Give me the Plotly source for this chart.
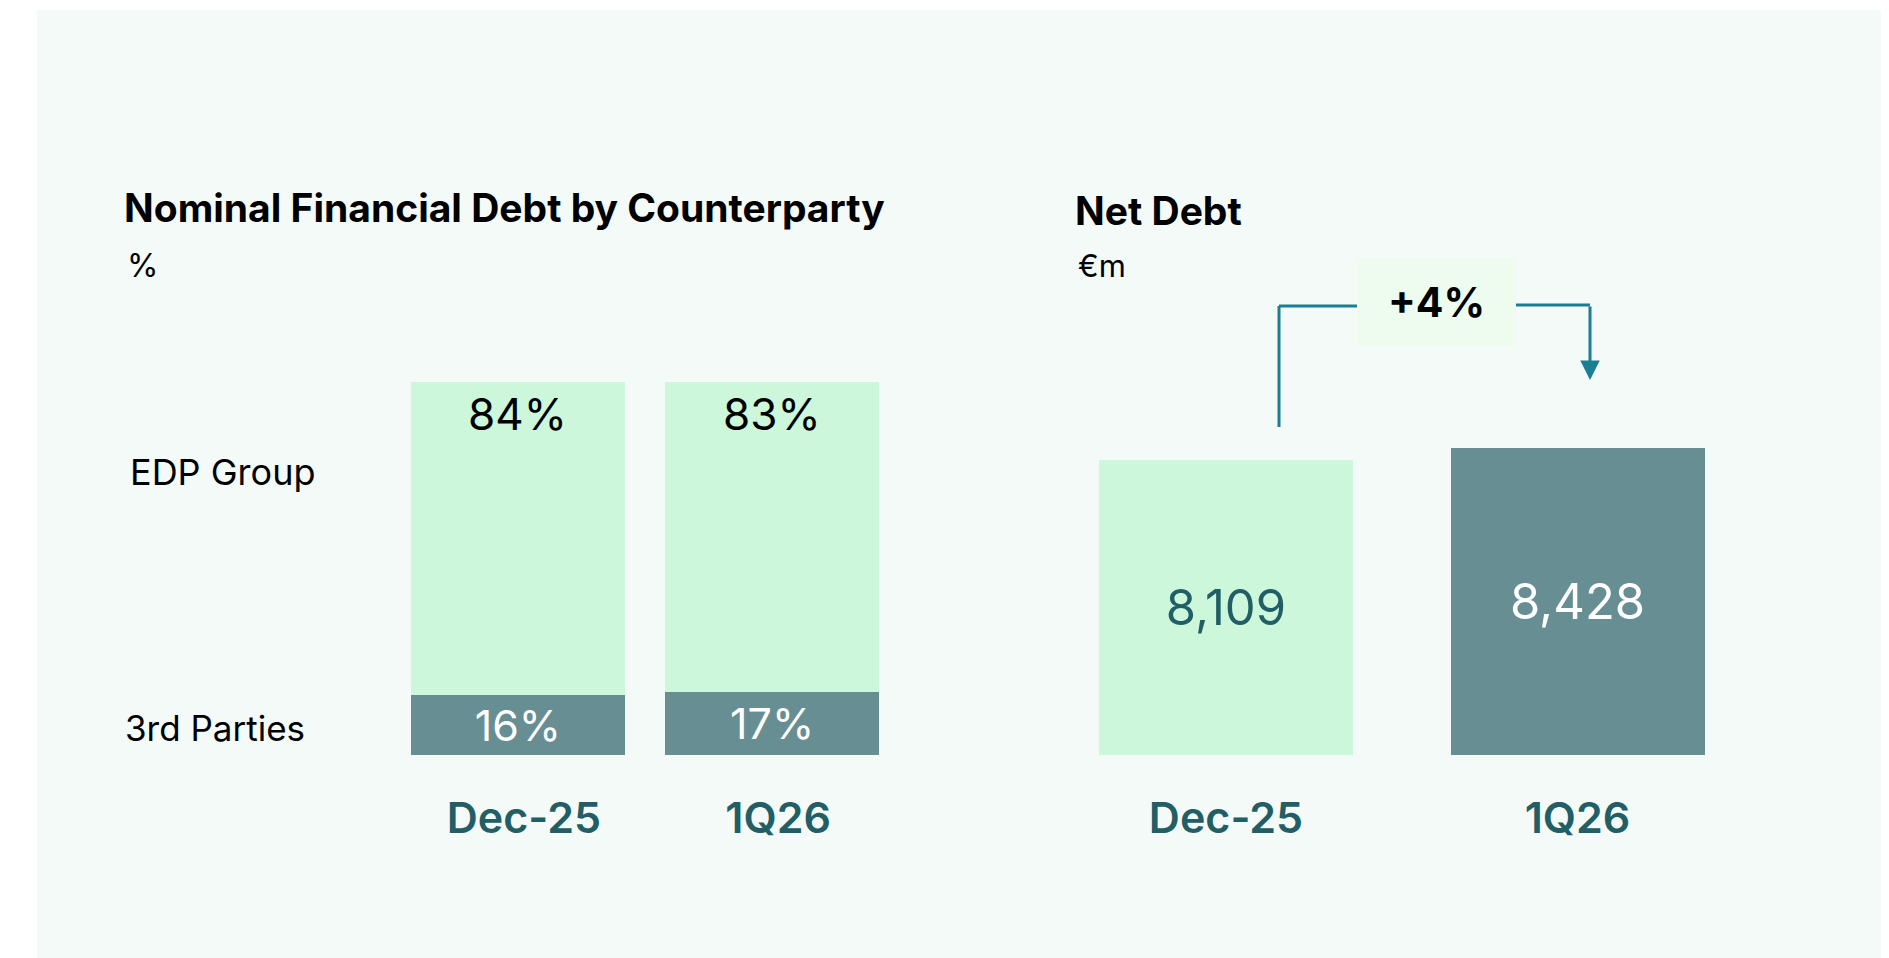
import plotly.graph_objects as go

# ---------------- data ----------------
periods = ["Dec-25", "1Q26"]
edp_group_pct = [84, 83]
third_parties_pct = [16, 17]
net_debt = [8109, 8428]
segment_labels = ["EDP Group", "3rd Parties"]

W, H = 1889, 958
OFF = 8  # page body margin of the html page
FONT = "Inter"
LIGHT = "#CCF7DA"
DARK = "#668E93"
TEAL_TXT = "#215E66"
ARROW = "#1B7F93"
PANEL = "#F4FAF7"


def px(x):
    return (x - OFF) / W


def py(y):
    return 1 - (y - OFF) / H


fig = go.Figure()

# ---- left chart: stacked % bars ----
fig.add_trace(go.Bar(
    x=periods, y=third_parties_pct, name=segment_labels[1],
    marker=dict(color=DARK, line=dict(width=0)), width=0.84,
    text=[f"{v}%" for v in third_parties_pct], textposition="inside",
    insidetextanchor="middle", constraintext="none",
    textfont=dict(family=FONT, size=43, color="white"),
    xaxis="x", yaxis="y", hoverinfo="skip",
))
fig.add_trace(go.Bar(
    x=periods, y=edp_group_pct, name=segment_labels[0],
    marker=dict(color=LIGHT, line=dict(width=0)), width=0.84,
    xaxis="x", yaxis="y", hoverinfo="skip",
))

# ---- right chart: net debt bars ----
fig.add_trace(go.Bar(
    x=periods, y=net_debt, name="Net Debt",
    marker=dict(color=[LIGHT, DARK], line=dict(width=0)), width=0.7226,
    text=[f"{v:,}" for v in net_debt], textposition="inside",
    insidetextanchor="middle", constraintext="none",
    textfont=dict(family=FONT, size=49, color=[TEAL_TXT, "white"]),
    xaxis="x2", yaxis="y2", hoverinfo="skip",
))

ybot, ytop = py(755), py(382)
tickfont = dict(family=FONT, size=43, color=TEAL_TXT, weight=600)

fig.update_layout(
    width=W, height=H,
    margin=dict(l=0, r=0, t=0, b=0),
    paper_bgcolor="white", plot_bgcolor="rgba(0,0,0,0)",
    barmode="stack", showlegend=False,
    xaxis=dict(domain=[px(390.75), px(899.25)], type="category",
               range=[-0.5, 1.5], showgrid=False, zeroline=False,
               showline=False, ticks="", tickfont=tickfont,
               ticklabelstandoff=34, ticklabelshift=6, fixedrange=True),
    yaxis=dict(domain=[ybot, ytop], range=[0, 100], visible=False,
               fixedrange=True),
    xaxis2=dict(domain=[px(1050.25), px(1753.25)], type="category",
                range=[-0.5, 1.5], showgrid=False, zeroline=False,
                showline=False, ticks="", tickfont=tickfont,
                ticklabelstandoff=34, anchor="y2", fixedrange=True),
    yaxis2=dict(domain=[ybot, ytop], range=[0, 10253], visible=False,
                anchor="x2", fixedrange=True),
)

shapes = []
# panel background
shapes.append(dict(type="rect", xref="paper", yref="paper", layer="below",
                   x0=px(37), x1=px(1883), y0=py(966), y1=py(10),
                   fillcolor=PANEL, line=dict(width=0)))
# "+4%" box
shapes.append(dict(type="rect", xref="paper", yref="paper", layer="above",
                   x0=px(1357), x1=px(1516), y0=py(346), y1=py(258),
                   fillcolor="#EEFCF0", line=dict(width=0)))
# bracket lines
for (x0, y0, x1, y1) in [(1279, 427, 1279, 306), (1279, 306, 1357, 306),
                         (1516, 305, 1590, 305)]:
    shapes.append(dict(type="line", xref="paper", yref="paper",
                       x0=px(x0), y0=py(y0), x1=px(x1), y1=py(y1),
                       line=dict(color=ARROW, width=3)))
fig.update_layout(shapes=shapes)

growth = round((net_debt[1] / net_debt[0] - 1) * 100)

annotations = [
    dict(text="<b>Nominal Financial Debt by Counterparty</b>", x=px(122), y=py(207),
         xanchor="left", yanchor="middle", font=dict(family=FONT, size=39, color="#000")),
    dict(text="%", x=px(125), y=py(265), xanchor="left", yanchor="middle",
         font=dict(family=FONT, size=32, color="#000")),
    dict(text="<b>Net Debt</b>", x=px(1073), y=py(211), xanchor="left", yanchor="middle",
         font=dict(family=FONT, size=39, color="#000")),
    dict(text="€m", x=px(1076), y=py(265), xanchor="left", yanchor="middle",
         font=dict(family=FONT, size=31, color="#000")),
    dict(text=segment_labels[0], x=px(128), y=py(472), xanchor="left", yanchor="middle",
         font=dict(family=FONT, size=36, color="#000")),
    dict(text=segment_labels[1], x=px(123), y=py(728), xanchor="left", yanchor="middle",
         font=dict(family=FONT, size=35, color="#000")),
    dict(text=f"<b>+{growth}%</b>", x=px(1436), y=py(302), xanchor="center", yanchor="middle",
         font=dict(family=FONT, size=41, color="#000")),
    # down arrow
    dict(text="", x=px(1590), y=py(380), ax=0, ay=-75,
         axref="pixel", ayref="pixel", showarrow=True, arrowhead=2,
         arrowsize=1.3, arrowwidth=3, arrowcolor=ARROW),
]
for a in annotations:
    a.setdefault("xref", "paper")
    a.setdefault("yref", "paper")
    a.setdefault("showarrow", False)

# top-of-bar percentage labels (EDP Group)
for p, v, t in zip(periods, edp_group_pct, third_parties_pct):
    annotations.append(dict(text=f"{v}%", x=p, y=v + t, xref="x", yref="y",
                            yanchor="top", yshift=-3, showarrow=False,
                            font=dict(family=FONT, size=44, color="#000")))

fig.update_layout(annotations=annotations)

fig.write_html("out.html")
